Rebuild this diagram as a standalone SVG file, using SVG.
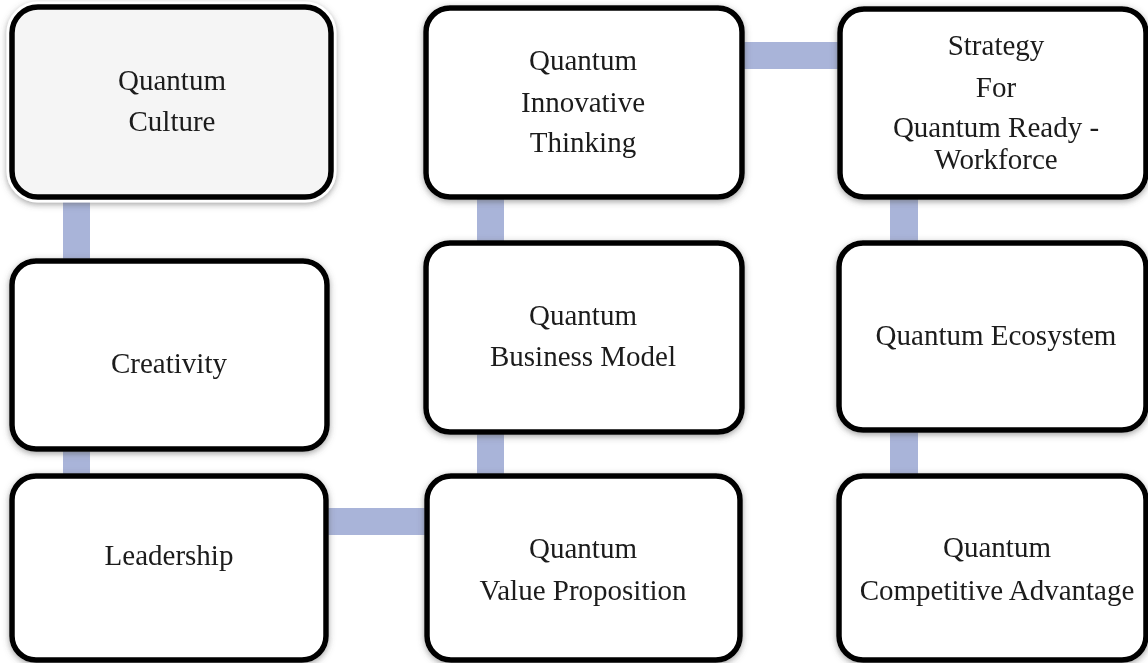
<svg xmlns="http://www.w3.org/2000/svg" width="1148" height="663" viewBox="0 0 1148 663">
  <defs>
    <filter id="shadow" x="-10%" y="-10%" width="120%" height="125%">
      <feDropShadow dx="0" dy="2" stdDeviation="3" flood-color="#555" flood-opacity="0.55"/>
    </filter>
    <style>
      .box { fill: #ffffff; stroke: #000000; stroke-width: 5.5; }
      .box.tint { fill: #f5f5f5; }
      .ring { fill: none; stroke: #ffffff; stroke-width: 11; }
      .label { font-family: "Liberation Serif", "Times New Roman", serif; font-size: 29px; fill: #1a1a1a; text-anchor: middle; }
      .link { fill: #a9b4d9; }
    </style>
  </defs>
  <rect width="1148" height="663" fill="#ffffff"/>

  <!-- connectors -->
  <g id="connectors">
    <rect class="link" x="63" y="195" width="27" height="68"/>
    <rect class="link" x="63" y="447" width="27" height="31"/>
    <rect class="link" x="324" y="508" width="104" height="27"/>
    <rect class="link" x="477" y="430" width="27" height="48"/>
    <rect class="link" x="477" y="195" width="27" height="50"/>
    <rect class="link" x="740" y="42" width="101" height="27"/>
    <rect class="link" x="890" y="195" width="28" height="50"/>
    <rect class="link" x="890" y="428" width="28" height="50"/>
  </g>

  <g id="quantum-culture" filter="url(#shadow)">
    <rect class="ring" x="12" y="7" width="319" height="190" rx="26"/>
    <rect class="box tint" x="12" y="7" width="319" height="190" rx="26"/>
    <text class="label" x="172" y="90">Quantum</text>
    <text class="label" x="172" y="131">Culture</text>
  </g>

  <g id="creativity" filter="url(#shadow)">
    <rect class="box" x="12" y="261" width="315" height="188" rx="24"/>
    <text class="label" x="169" y="373">Creativity</text>
  </g>

  <g id="leadership" filter="url(#shadow)">
    <rect class="box" x="12" y="476" width="314" height="184" rx="24"/>
    <text class="label" x="169" y="565">Leadership</text>
  </g>

  <g id="quantum-innovative-thinking" filter="url(#shadow)">
    <rect class="box" x="426" y="8" width="316" height="189" rx="24"/>
    <text class="label" x="583" y="70">Quantum</text>
    <text class="label" x="583" y="112">Innovative</text>
    <text class="label" x="583" y="152">Thinking</text>
  </g>

  <g id="quantum-business-model" filter="url(#shadow)">
    <rect class="box" x="426" y="243" width="316" height="189" rx="24"/>
    <text class="label" x="583" y="325">Quantum</text>
    <text class="label" x="583" y="366">Business Model</text>
  </g>

  <g id="quantum-value-proposition" filter="url(#shadow)">
    <rect class="box" x="427" y="476" width="313" height="184" rx="24"/>
    <text class="label" x="583" y="558">Quantum</text>
    <text class="label" x="583" y="600">Value Proposition</text>
  </g>

  <g id="strategy-quantum-ready-workforce" filter="url(#shadow)">
    <rect class="box" x="840" y="9" width="306" height="188" rx="24"/>
    <text class="label" x="996" y="55">Strategy</text>
    <text class="label" x="996" y="97">For</text>
    <text class="label" x="996" y="137">Quantum Ready -</text>
    <text class="label" x="996" y="169">Workforce</text>
  </g>

  <g id="quantum-ecosystem" filter="url(#shadow)">
    <rect class="box" x="839" y="243" width="307" height="187" rx="24"/>
    <text class="label" x="996" y="345">Quantum Ecosystem</text>
  </g>

  <g id="quantum-competitive-advantage" filter="url(#shadow)">
    <rect class="box" x="839" y="476" width="307" height="184" rx="24"/>
    <text class="label" x="997" y="557">Quantum</text>
    <text class="label" x="997" y="600">Competitive Advantage</text>
  </g>
</svg>
